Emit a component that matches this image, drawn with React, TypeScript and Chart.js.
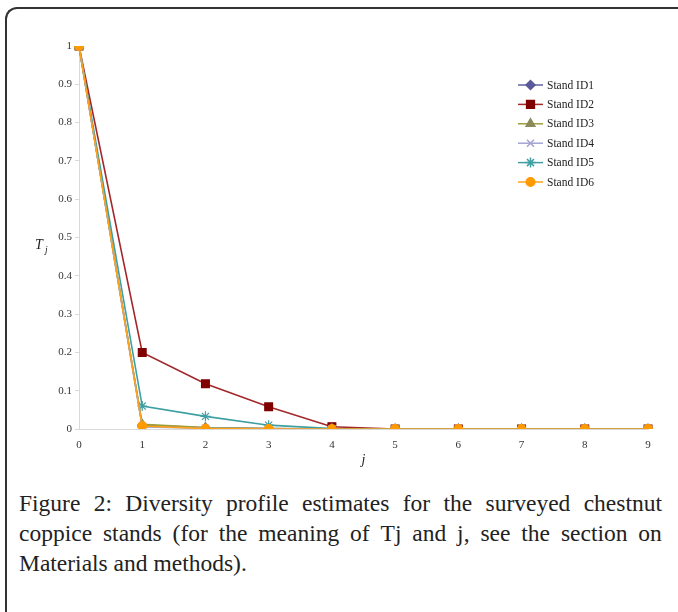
import React, { useEffect, useRef } from "react";
import { Chart, registerables } from "chart.js";
import { drawPoint } from "chart.js/helpers";

Chart.register(...registerables);

const xLabels = ["0", "1", "2", "3", "4", "5", "6", "7", "8", "9"];
const standNames = ["Stand ID1", "Stand ID2", "Stand ID3", "Stand ID4", "Stand ID5", "Stand ID6"];
const id1 = [1, 0.01, 0.003, 0.001, 0, 0, 0, 0, 0, 0];
const id2 = [1, 0.2, 0.118, 0.058, 0.006, 0, 0, 0, 0, 0];
const id3 = [1, 0.012, 0.004, 0.001, 0, 0, 0, 0, 0, 0];
const id4 = [1, 0.005, 0.002, 0.0005, 0, 0, 0, 0, 0, 0];
const id5 = [1, 0.06, 0.033, 0.01, 0.001, 0, 0, 0, 0, 0];
const id6 = [1, 0.008, 0.001, 0, 0, 0, 0, 0, 0, 0];
const yTicks = [0, 0.1, 0.2, 0.3, 0.4, 0.5, 0.6, 0.7, 0.8, 0.9, 1];

const SERIF = "'Liberation Serif', 'Times New Roman', serif";

const styles = [
  { line: "#6262a2", fill: "#5a5a9a", point: "rectRot", r: 4.5, order: 6 },
  { line: "#a3282c", fill: "#800000", point: "rect", r: 5.5, order: 5 },
  { line: "#9e9e3c", fill: "#8a8a5a", point: "triangle", r: 5, order: 4 },
  { line: "#a4a4d2", fill: "#a4a4d2", point: "crossRot", r: 5, order: 3 },
  { line: "#3f9fa3", fill: "#3f9fa3", point: "star", r: 5, order: 2 },
  { line: "#ffa31a", fill: "#ff9a00", point: "circle", r: 4.3, order: 1 },
];

const legendPlugin = {
  id: "customLegend",
  afterDraw(chart: any) {
    const ctx = chart.ctx;
    ctx.save();
    const x0 = 518;
    const x1 = 543;
    const y0 = 85;
    const dy = 19.4;
    chart.data.datasets.forEach((ds: any, i: number) => {
      const y = y0 + i * dy;
      ctx.strokeStyle = ds.borderColor;
      ctx.lineWidth = 1.5;
      ctx.beginPath();
      ctx.moveTo(x0, y);
      ctx.lineTo(x1, y);
      ctx.stroke();
      ctx.fillStyle = ds.pointBackgroundColor;
      ctx.strokeStyle = ds.pointBorderColor;
      drawPoint(ctx, { pointStyle: ds.pointStyle, rotation: 0, borderWidth: 1.2, radius: ds.pointRadius }, (x0 + x1) / 2, y);
      ctx.fillStyle = "#222";
      ctx.font = `11.5px ${SERIF}`;
      ctx.textBaseline = "middle";
      ctx.textAlign = "left";
      ctx.fillText(ds.label, 547, y + 0.5);
    });
    // y-axis title T_j
    ctx.fillStyle = "#222";
    ctx.textBaseline = "alphabetic";
    ctx.font = `italic 14px ${SERIF}`;
    ctx.fillText("T", 35, 249);
    ctx.font = `italic 9.5px ${SERIF}`;
    ctx.fillText("j", 45, 253);
    ctx.restore();
  },
};

export default function App() {
  const ref = useRef<HTMLCanvasElement>(null);
  useEffect(() => {
    const series = [id1, id2, id3, id4, id5, id6];
    const chart = new Chart(ref.current!, {
      type: "line",
      data: {
        labels: xLabels,
        datasets: series.map((d, i) => ({
          label: standNames[i],
          data: d,
          borderColor: styles[i].line,
          backgroundColor: styles[i].fill,
          pointBackgroundColor: styles[i].fill,
          pointBorderColor: styles[i].fill,
          pointBorderWidth: 1.2,
          pointStyle: styles[i].point as any,
          pointRadius: styles[i].r,
          borderWidth: 1.6,
          tension: 0,
          fill: false,
          order: styles[i].order,
        })),
      },
      options: {
        responsive: false,
        animation: false,
        devicePixelRatio: 1,
        layout: { padding: { left: 0, right: 30, top: 46, bottom: 0 } },
        plugins: { legend: { display: false }, tooltip: { enabled: false } },
        scales: {
          x: {
            offset: false,
            grid: { display: true, drawOnChartArea: false, drawTicks: false, color: "#d9d9d9" },
            border: { color: "#d9d9d9", width: 1 },
            ticks: { color: "#333", font: { family: SERIF, size: 11 }, padding: 10, maxRotation: 0 },
            title: {
              display: true,
              text: "j",
              color: "#222",
              font: { family: SERIF, size: 14, style: "italic" },
              padding: { top: 0, bottom: 11 },
            },
            afterFit(scale: any) {
              scale.height = 51;
            },
          },
          y: {
            min: 0,
            max: 1,
            afterBuildTicks(scale: any) {
              scale.ticks = yTicks.map((v) => ({ value: v }));
            },
            grid: { display: true, drawOnChartArea: false, drawTicks: true, tickLength: 4, color: "#d9d9d9" },
            border: { color: "#d9d9d9", width: 1 },
            ticks: {
              color: "#333",
              font: { family: SERIF, size: 11 },
              padding: 3,
              callback: (v: any) => String(Math.round(Number(v) * 10) / 10),
            },
            afterFit(scale: any) {
              scale.width = 79;
            },
          },
        },
      },
      plugins: [legendPlugin],
    });
    return () => chart.destroy();
  }, []);

  const justified = (text: string) => (
    <div style={{ display: "flex", justifyContent: "space-between" }}>
      {text.split(" ").map((w, i) => (
        <span key={i}>{w}</span>
      ))}
    </div>
  );

  return (
    <div>
      <div
        style={{
          position: "absolute",
          left: 5,
          top: 7,
          width: 673,
          height: 605,
          boxSizing: "border-box",
          borderTop: "2px solid #333",
          borderLeft: "2px solid #333",
          borderTopLeftRadius: 12,
        }}
      />
      <canvas
        ref={ref}
        width={678}
        height={480}
        style={{ position: "absolute", left: 0, top: 0, width: 678, height: 480 }}
      />
      <div
        style={{
          position: "absolute",
          left: 19,
          top: 488,
          width: 643,
          fontFamily: SERIF,
          fontSize: 23.5,
          lineHeight: "30px",
          color: "#222",
        }}
      >
        {justified("Figure 2: Diversity profile estimates for the surveyed chestnut")}
        {justified("coppice stands (for the meaning of Tj and j, see the section on")}
        <div>Materials and methods).</div>
      </div>
    </div>
  );
}
